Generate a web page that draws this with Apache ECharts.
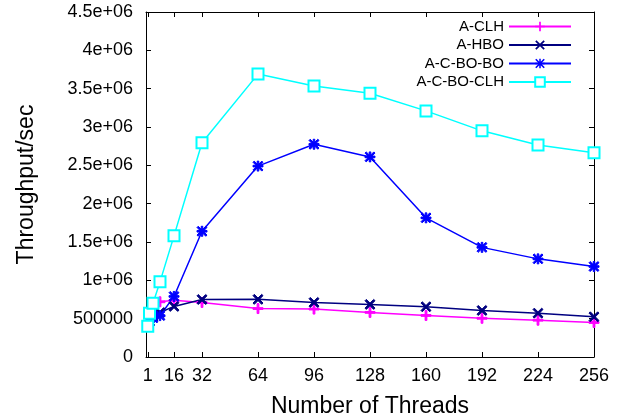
<!DOCTYPE html>
<html>
<head>
<meta charset="utf-8">
<script src="https://cdn.jsdelivr.net/npm/echarts@6/dist/echarts.min.js"></script>
<style>html,body{margin:0;padding:0;background:#fff;}#c{width:625px;height:417px;}</style>
</head>
<body>
<div id="c"></div>
<script>
const threads = [1, 2, 4, 8, 16, 32, 64, 96, 128, 160, 192, 224, 256];
const aCLH     = [420000, 560000, 650000, 720000, 740000, 712000, 632000, 625000, 582000, 542000, 505000, 480000, 450000];
const aHBO     = [400000, 470000, 530000, 580000, 660000, 750000, 752000, 712000, 686000, 655000, 607000, 572000, 524000];
const aCBOBO   = [400000, 460000, 510000, 540000, 790000, 1640000, 2490000, 2775000, 2610000, 1815000, 1430000, 1280000, 1180000];
const aCBOCLH  = [400000, 570000, 700000, 980000, 1580000, 2795000, 3690000, 3535000, 3440000, 3210000, 2950000, 2765000, 2665000];
const seriesNames = ['A-CLH', 'A-HBO', 'A-C-BO-BO', 'A-C-BO-CLH'];
const xTicks = [1, 16, 32, 64, 96, 128, 160, 192, 224, 256];
const yTickLabels = ['0', '500000', '1e+06', '1.5e+06', '2e+06', '2.5e+06', '3e+06', '3.5e+06', '4e+06', '4.5e+06'];

const PLUS = 'path://M4.1,0h1.8v10h-1.8z M0,4.1h10v1.8h-10z';
const CROSS = 'path://M0,1.3L1.3,0L10,8.7L8.7,10Z M8.7,0L10,1.3L1.3,10L0,8.7Z';
const STAR = 'path://M4.2,0h1.6v10h-1.6z M0,4.2h10v1.6h-10z M0,1.2L1.2,0L10,8.8L8.8,10Z M8.8,0L10,1.2L1.2,10L0,8.8Z';

const font = 'Liberation Sans, Arial, sans-serif';
const pair = arr => threads.map((t, i) => [t, arr[i]]);

function mk(name, data, color, symbol, size) {
  return {
    name: name, type: 'line', data: pair(data),
    symbol: symbol, symbolSize: size,
    lineStyle: {color: color, width: 1.5},
    itemStyle: {color: color, borderColor: color},
    emphasis: {disabled: true},
    animation: false
  };
}

const chart = echarts.init(document.getElementById('c'), null, {renderer: 'canvas'});
const axisLine = {show: true, onZero: false, lineStyle: {color: '#000', width: 1}};
chart.setOption({
  backgroundColor: '#fff',
  animation: false,
  grid: {left: 146, right: 31, top: 12, bottom: 60, outerBoundsMode: 'none', containLabel: false},
  legend: {
    orient: 'vertical', right: 48, top: 14, align: 'right',
    itemWidth: 62, itemHeight: 12, itemGap: 3.5,
    textStyle: {fontFamily: font, fontSize: 15, color: '#000'},
    data: seriesNames
  },
  xAxis: [{
    type: 'value', min: 0, max: 256,
    name: 'Number of Threads', nameLocation: 'middle', nameGap: 38,
    nameTextStyle: {fontFamily: font, fontSize: 23, color: '#000'},
    axisLine: axisLine,
    axisTick: {show: true, inside: true, length: 5, customValues: xTicks, lineStyle: {color: '#000'}},
    axisLabel: {customValues: xTicks, fontFamily: font, fontSize: 18, color: '#000', margin: 10},
    splitLine: {show: false}
  }, {
    type: 'value', min: 0, max: 256, position: 'top',
    axisLine: axisLine,
    axisTick: {show: true, inside: true, length: 5, customValues: xTicks, lineStyle: {color: '#000'}},
    axisLabel: {show: false}, splitLine: {show: false}
  }],
  yAxis: [{
    type: 'value', min: 0, max: 4500000, interval: 500000,
    name: 'Throughput/sec', nameLocation: 'middle', nameGap: 108,
    nameTextStyle: {fontFamily: font, fontSize: 23, color: '#000'},
    axisLine: axisLine,
    axisTick: {show: true, inside: true, length: 5, lineStyle: {color: '#000'}},
    axisLabel: {fontFamily: font, fontSize: 18, color: '#000', margin: 13,
      formatter: v => yTickLabels[Math.round(v / 500000)]},
    splitLine: {show: false}
  }, {
    type: 'value', min: 0, max: 4500000, interval: 500000, position: 'right',
    axisLine: axisLine,
    axisTick: {show: true, inside: true, length: 5, lineStyle: {color: '#000'}},
    axisLabel: {show: false}, splitLine: {show: false}
  }],
  series: [
    mk(seriesNames[0], aCLH, '#ff00ff', PLUS, 10),
    mk(seriesNames[1], aHBO, '#000080', CROSS, 10),
    mk(seriesNames[2], aCBOBO, '#0000ff', STAR, 10),
    mk(seriesNames[3], aCBOCLH, '#00ffff', 'emptyRect', 11)
  ]
});
</script>
</body>
</html>
